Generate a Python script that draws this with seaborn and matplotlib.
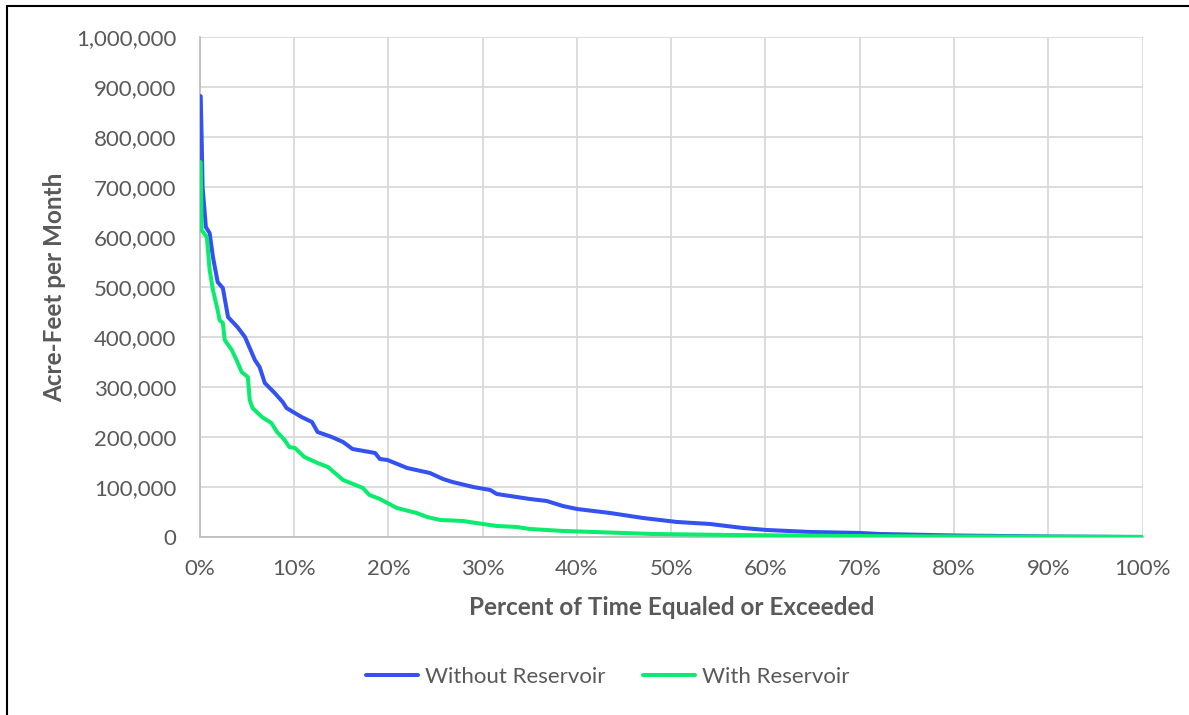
import pandas as pd
import seaborn as sns
import matplotlib.pyplot as plt
from matplotlib.lines import Line2D
from matplotlib.ticker import FuncFormatter, MultipleLocator

# Flow duration data (percent of time, acre-feet per month)
without_pct = [0.1, 0.2, 0.3, 0.65, 1.05, 1.4, 1.9, 2.45, 3.0, 4.0, 4.8, 5.85, 6.35, 6.9,
               7.95, 8.8, 9.2, 10.8, 11.9, 12.5, 14.0, 15.2, 16.2, 18.6, 19.1, 19.9, 22.0,
               24.4, 25.8, 26.8, 29.0, 30.8, 31.5, 32.9, 35.0, 36.8, 38.5, 40.0, 43.5, 47.0,
               50.6, 54.1, 57.6, 60.1, 64.7, 70.0, 72.1, 80.0, 90.0, 100.0]
without_flow = [882000, 800000, 700000, 620000, 608000, 560000, 510000, 498000, 440000,
                420000, 400000, 354000, 340000, 308000, 288000, 270000, 258000, 240000,
                230000, 210000, 200000, 190000, 176000, 168000, 156000, 154000, 138000,
                128000, 116000, 110000, 100000, 94000, 86000, 82000, 76000, 72000, 62000,
                56000, 48000, 38000, 30000, 26000, 18000, 14000, 10000, 8000, 6000, 3000,
                1000, 0]

with_pct = [0.1, 0.2, 0.75, 1.05, 1.4, 1.9, 2.1, 2.45, 2.65, 3.4, 3.9, 4.45, 5.1, 5.3, 5.6,
            6.6, 7.6, 8.2, 9.0, 9.5, 10.1, 11.1, 12.5, 13.6, 15.2, 17.3, 18.0, 19.1, 19.9,
            20.9, 23.0, 24.1, 25.5, 27.9, 30.0, 31.5, 33.6, 35.0, 38.5, 41.7, 48.0, 55.9,
            72.1, 85.0, 100.0]
with_flow = [750000, 614000, 600000, 534000, 494000, 454000, 434000, 428000, 394000,
             374000, 354000, 330000, 320000, 274000, 258000, 240000, 228000, 210000,
             194000, 180000, 178000, 160000, 148000, 140000, 114000, 98000, 84000, 76000,
             68000, 58000, 48000, 40000, 34000, 32000, 26000, 22000, 20000, 16000, 12000,
             10000, 6000, 4000, 1500, 800, 0]

series_names = ['Without Reservoir', 'With Reservoir']
colors = ['#3352F0', '#0BEB6E']

df = pd.concat([
    pd.DataFrame({'pct': without_pct, 'flow': without_flow, 'Series': series_names[0]}),
    pd.DataFrame({'pct': with_pct, 'flow': with_flow, 'Series': series_names[1]}),
])

sns.set_style('white')
plt.rcParams['font.family'] = ['Lato', 'DejaVu Sans']
text_color = '#595959'

fig = plt.figure(figsize=(11.89, 7.15), dpi=100)
ax = fig.add_axes([0.168, 0.249, 0.793, 0.699])

sns.lineplot(data=df, x='pct', y='flow', hue='Series', palette=colors,
             linewidth=2.9, sort=False, estimator=None, ax=ax, zorder=3)

ax.set_xlim(0, 100)
ax.set_ylim(0, 1000000)
ax.xaxis.set_major_locator(MultipleLocator(10))
ax.yaxis.set_major_locator(MultipleLocator(100000))
ax.xaxis.set_major_formatter(FuncFormatter(lambda v, p: f'{v:.0f}%'))
ax.yaxis.set_major_formatter(FuncFormatter(lambda v, p: f'{v:,.0f}'))
ax.grid(True, color='#d9d9d9', linewidth=1.3)
ax.set_axisbelow(True)

for side in ['top', 'right']:
    ax.spines[side].set_visible(False)
for side in ['left', 'bottom']:
    ax.spines[side].set_color('#bfbfbf')
    ax.spines[side].set_linewidth(1.3)

ax.tick_params(axis='both', labelsize=16, colors=text_color, length=0)
ax.tick_params(axis='x', pad=16)
ax.tick_params(axis='y', pad=17)

ax.set_xlabel('Percent of Time Equaled or Exceeded', fontsize=17.5,
              fontweight='bold', color=text_color, labelpad=12)
ax.set_ylabel('Acre-Feet per Month', fontsize=17.5, fontweight='bold',
              color=text_color, labelpad=7)

handles, labels = ax.get_legend_handles_labels()
ax.get_legend().remove()
fig.legend(handles, labels, loc='center', bbox_to_anchor=(0.511, 0.053), ncol=2,
           frameon=False, fontsize=16, labelcolor=text_color, handlelength=2.35,
           handletextpad=0.3, columnspacing=1.7)

# outer chart border (left and top edges visible in the reference)
fig.add_artist(Line2D([0.0059, 0.0059], [0, 0.9916], color='black', linewidth=1.5))
fig.add_artist(Line2D([0.0059, 1.0], [0.9916, 0.9916], color='black', linewidth=1.5))

fig.savefig('out.png', dpi=100)
